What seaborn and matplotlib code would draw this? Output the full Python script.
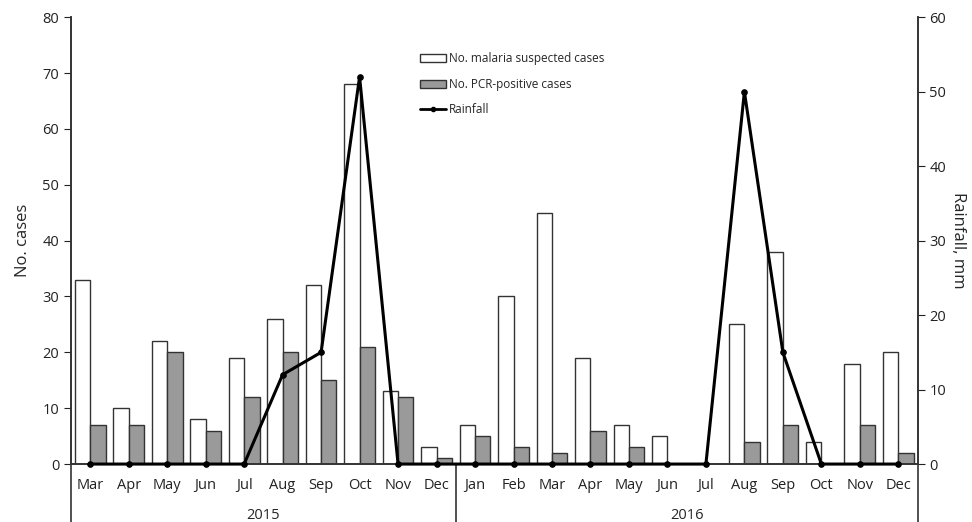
import pandas as pd
import numpy as np
import matplotlib.pyplot as plt
import seaborn as sns
from matplotlib.patches import Patch
from matplotlib.lines import Line2D

# monthly data, Mar 2015 - Dec 2016
months = ['Mar', 'Apr', 'May', 'Jun', 'Jul', 'Aug', 'Sep', 'Oct', 'Nov', 'Dec',
          'Jan', 'Feb', 'Mar', 'Apr', 'May', 'Jun', 'Jul', 'Aug', 'Sep', 'Oct', 'Nov', 'Dec']
years = ['2015'] * 10 + ['2016'] * 12
suspected = [33, 10, 22, 8, 19, 26, 32, 68, 13, 3,
             7, 30, 45, 19, 7, 5, 0, 25, 38, 4, 18, 20]
pcr_pos = [7, 7, 20, 6, 12, 20, 15, 21, 12, 1,
           5, 3, 2, 6, 3, 0, 0, 4, 7, 0, 7, 2]
rainfall = [0, 0, 0, 0, 0, 12, 15, 52, 0, 0,
            0, 0, 0, 0, 0, 0, 0, 50, 15, 0, 0, 0]

periods = [f'{y}-{m}' for y, m in zip(years, months)]
df = pd.DataFrame({'period': periods * 2,
                   'cases': suspected + pcr_pos,
                   'series': ['No. malaria suspected cases'] * len(periods) +
                             ['No. PCR-positive cases'] * len(periods)})

sns.set_style('ticks')
plt.rcParams['font.family'] = ['Open Sans', 'DejaVu Sans']

fig = plt.figure(figsize=(9.72, 5.22), dpi=100)
ax = fig.add_axes([0.073, 0.111, 0.871, 0.856])

sns.barplot(data=df, x='period', y='cases', hue='series', order=periods,
            palette=['white', '#9a9a9a'], edgecolor='#333333', linewidth=1,
            ax=ax, legend=False)
ax.set_ylim(0, 80)
ax.set_xlim(-0.5, len(periods) - 0.5)
ax.set_yticks(range(0, 81, 10))
ax.set_xticks(range(len(periods)))
ax.set_xticklabels(months)
ax.tick_params(axis='x', length=0, pad=10, labelsize=10.5, colors='#222222')
ax.tick_params(axis='y', length=5, labelsize=10.5, colors='#222222', direction='out')
ax.set_xlabel('')
ax.set_ylabel('No. cases', fontsize=12, labelpad=8)
ax.spines['top'].set_visible(False)
for s in ax.spines.values():
    s.set_color('#333333')
    s.set_linewidth(1.2)

ax2 = ax.twinx()
sns.lineplot(x=np.arange(len(periods)), y=rainfall, ax=ax2, color='black',
             linewidth=2.2, marker='o', markersize=4, markeredgecolor='black',
             clip_on=False, zorder=5)
ax2.set_ylim(0, 60)
ax2.set_yticks(range(0, 61, 10))
ax2.tick_params(axis='y', length=5, labelsize=10.5, colors='#222222', direction='out')
ax2.set_ylabel('Rainfall, mm', fontsize=12, rotation=270, labelpad=14)
ax2.spines['top'].set_visible(False)
for s in ax2.spines.values():
    s.set_color('#333333')
    s.set_linewidth(1.2)

# year separators and labels below the axis
trans = ax.get_xaxis_transform()
for xpos in [-0.5, 9.5, len(periods) - 0.5]:
    ax.plot([xpos, xpos], [0, -0.14], transform=trans, color='#333333',
            linewidth=1.2, clip_on=False)
ax.text(4.5, -0.115, '2015', transform=trans, ha='center', va='center', fontsize=10.5)
ax.text(15.5, -0.115, '2016', transform=trans, ha='center', va='center', fontsize=10.5)

# legend
handles = [Patch(facecolor='white', edgecolor='#333333', label='No. malaria suspected cases'),
           Patch(facecolor='#9a9a9a', edgecolor='#333333', label='No. PCR-positive cases'),
           Line2D([], [], color='black', linewidth=2, marker='o', markersize=3, label='Rainfall')]
ax.legend(handles=handles, loc='upper left', bbox_to_anchor=(0.4, 0.945), frameon=False,
          fontsize=8.5, handlelength=2.2, handletextpad=0.2, labelspacing=1.05)

fig.savefig('out.png', dpi=100)
